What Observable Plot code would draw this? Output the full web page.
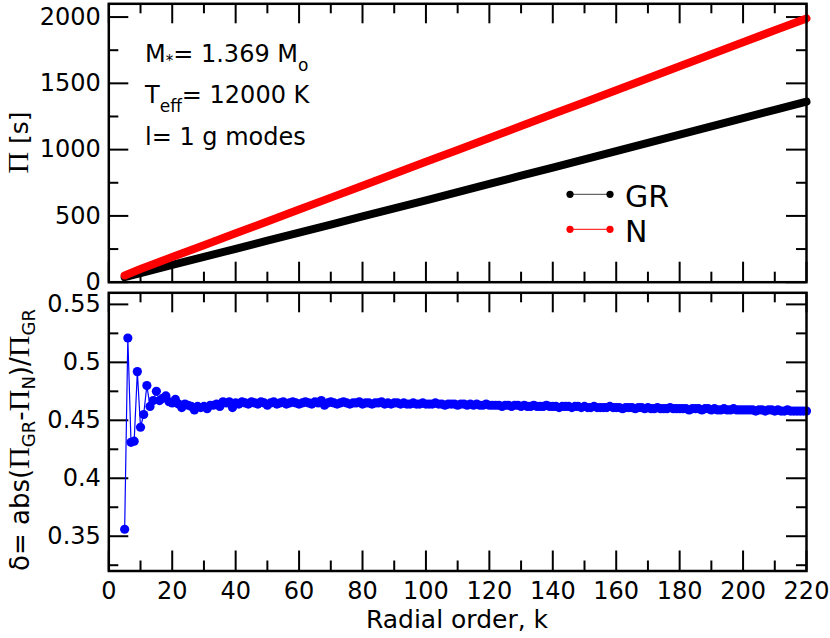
<!DOCTYPE html>
<html><head><meta charset="utf-8">
<script src="https://cdn.jsdelivr.net/npm/d3@7"></script>
<script src="https://cdn.jsdelivr.net/npm/@observablehq/plot@0.6"></script>
<style>
body{margin:0;background:#fff}
#wrap{position:relative;width:830px;height:638px;background:#fff}
#wrap svg{position:absolute;left:0;top:0}
</style>
</head><body><div id="wrap"></div>
<script>
// ---------- data ----------
const kTop = [5,10,20,30,40,50,60,70,80,90,100,110,120,130,140,150,160,170,180,190,200,210,220];
const periodGR = [38,68,130,191,252,313,374,435,496,557,618,679,741,803,865,927,989,1051,1113,1175,1237,1300,1362];
const periodN  = [51,99,190,279,369,458,548,638,728,818,908,998,1088,1178,1268,1358,1448,1538,1629,1720,1810,1900,1990];
const models = ["GR", "N"];
const modelColors = ["#000000", "#ff0000"];
const kDeltaStart = 5;
const delta = [
  0.356,0.521,0.431,0.432,0.492,0.444,0.455,0.480,0.462,0.467,
  0.475,0.467,0.469,0.471,0.466,0.465,0.468,0.464,0.461,0.464,
  0.463,0.462,0.459,0.462,0.461,0.462,0.460,0.463,0.463,0.464,
  0.462,0.466,0.465,0.466,0.461,0.465,0.464,0.466,0.465,0.464,
  0.466,0.465,0.464,0.466,0.465,0.463,0.465,0.466,0.464,0.465,
  0.466,0.464,0.465,0.466,0.465,0.464,0.465,0.466,0.465,0.464,
  0.466,0.465,0.467,0.463,0.465,0.466,0.465,0.464,0.465,0.466,
  0.465,0.464,0.465,0.465,0.466,0.464,0.465,0.465,0.464,0.465,
  0.465,0.466,0.464,0.465,0.464,0.465,0.465,0.464,0.465,0.464,
  0.464,0.465,0.464,0.464,0.465,0.464,0.464,0.464,0.465,0.464,
  0.464,0.463,0.464,0.464,0.464,0.463,0.464,0.464,0.463,0.464,
  0.463,0.464,0.463,0.463,0.464,0.463,0.463,0.463,0.463,0.462,
  0.463,0.463,0.462,0.463,0.463,0.462,0.463,0.462,0.462,0.463,
  0.462,0.462,0.462,0.463,0.462,0.462,0.462,0.461,0.462,0.462,
  0.462,0.461,0.462,0.462,0.461,0.462,0.461,0.461,0.462,0.461,
  0.461,0.461,0.461,0.462,0.461,0.461,0.461,0.460,0.461,0.461,
  0.461,0.460,0.461,0.461,0.460,0.461,0.460,0.460,0.461,0.460,
  0.460,0.460,0.461,0.460,0.460,0.460,0.460,0.460,0.459,0.460,
  0.460,0.460,0.459,0.460,0.460,0.459,0.460,0.459,0.459,0.460,
  0.459,0.459,0.460,0.459,0.459,0.459,0.459,0.459,0.459,0.458,
  0.459,0.459,0.458,0.459,0.459,0.458,0.459,0.458,0.458,0.459,
  0.458,0.458,0.458,0.458,0.458,0.458
];
const xMajor = [0,20,40,60,80,100,120,140,160,180,200,220];
const xMinor = [10,30,50,70,90,110,130,150,170,190,210];
const yTopMajor = [0,500,1000,1500,2000];
const yTopMinor = [250,750,1250,1750];
const yBotMajor = [0.35,0.4,0.45,0.5,0.55];
const yBotMinor = [0.325,0.375,0.425,0.475,0.525];
const xDomain = [0,220];
const yTopDomain = [0,2100];
const yBotDomain = [0.32,0.56];

// ---------- tables ----------
const topRows = [];
models.forEach((m, j) => {
  const vals = j === 0 ? periodGR : periodN;
  kTop.forEach((k, i) => topRows.push({model: m, k, period: vals[i]}));
});
const deltaRows = delta.map((v, i) => ({k: kDeltaStart + i, delta: v}));

// ---------- layout ----------
const W = 830, H = 638;
const L = 108.3, R = 806;
const topT = 3.3, topB = 281.7;
const botT = 292.3, botB = 570.5;
const FONT = "DejaVu Sans";

function frameTicks(fw, fh, yMaj, yMin) {
  const big = 20, small = 10, sw = 2;
  const o = {stroke: "black", strokeWidth: sw};
  return [
    Plot.tickX(xMajor, {x: d => d, insetTop: fh - big, ...o}),
    Plot.tickX(xMajor, {x: d => d, insetBottom: fh - big, ...o}),
    Plot.tickX(xMinor, {x: d => d, insetTop: fh - small, ...o}),
    Plot.tickX(xMinor, {x: d => d, insetBottom: fh - small, ...o}),
    Plot.tickY(yMaj, {y: d => d, insetRight: fw - big, ...o}),
    Plot.tickY(yMaj, {y: d => d, insetLeft: fw - big, ...o}),
    Plot.tickY(yMin, {y: d => d, insetRight: fw - small, ...o}),
    Plot.tickY(yMin, {y: d => d, insetLeft: fw - small, ...o})
  ];
}
const style = {fontFamily: FONT, fontSize: "24px", background: "transparent", overflow: "visible", color: "black"};

const plotTop = Plot.plot({
  width: W, height: H,
  marginLeft: L, marginRight: W - R, marginTop: topT, marginBottom: H - topB,
  x: {domain: xDomain, axis: null},
  y: {domain: yTopDomain, axis: null},
  style,
  marks: [
    ...frameTicks(R - L, topB - topT, yTopMajor, yTopMinor),
    Plot.axisY({ticks: yTopMajor, tickSize: 0, tickPadding: 8, tickFormat: d => String(d), fill: "black", label: null}),
    Plot.line(topRows, {x: "k", y: "period", z: "model",
      stroke: d => modelColors[models.indexOf(d.model)],
      strokeWidth: 8, strokeLinecap: "round"}),
    Plot.frame({stroke: "black", strokeWidth: 2.5})
  ]
});

const plotBot = Plot.plot({
  width: W, height: H,
  marginLeft: L, marginRight: W - R, marginTop: botT, marginBottom: H - botB,
  x: {domain: xDomain, axis: null},
  y: {domain: yBotDomain, axis: null},
  style,
  marks: [
    ...frameTicks(R - L, botB - botT, yBotMajor, yBotMinor),
    Plot.axisY({ticks: yBotMajor, tickSize: 0, tickPadding: 8, tickFormat: d => String(d), fill: "black", label: null}),
    Plot.axisX({ticks: xMajor, tickSize: 0, tickPadding: 11, tickFormat: d => String(d), fill: "black", label: null}),
    Plot.line(deltaRows, {x: "k", y: "delta", stroke: "#0000ff", strokeWidth: 1.2}),
    Plot.dot(deltaRows, {x: "k", y: "delta", r: 4.6, fill: "#0000ff", stroke: "none"}),
    Plot.frame({stroke: "black", strokeWidth: 2.5})
  ]
});

const wrap = document.getElementById("wrap");
wrap.appendChild(plotTop);
wrap.appendChild(plotBot);

// ---------- text annotations ----------
const st = d3.select(plotTop);
const sb = d3.select(plotBot);

function addRich(sel, x, y, parts, opts = {}) {
  const t = sel.append("text")
    .attr("x", x).attr("y", y)
    .attr("font-family", FONT).attr("font-size", opts.size || 24)
    .attr("fill", "black")
    .attr("text-anchor", opts.anchor || "start");
  if (opts.rotate) t.attr("transform", `rotate(${opts.rotate},${x},${y})`);
  let shift = 0;
  parts.forEach(p => {
    const ts = t.append("tspan").text(p.t);
    const want = p.dy || 0;
    if (want !== shift) { ts.attr("dy", want - shift); shift = want; }
    if (p.size) ts.attr("font-size", p.size);
    if (p.family) ts.attr("font-family", p.family);
  });
  return t;
}

// panel annotations
addRich(st, 145, 62, [{t: "M"}, {t: "*", size: 15, dy: 4}, {t: "= 1.369 M"}, {t: "o", size: 17, dy: 9}]);
addRich(st, 145, 103, [{t: "T"}, {t: "eff", size: 17, dy: 9}, {t: "= 12000 K"}]);
addRich(st, 145, 145, [{t: "l= 1 g modes"}]);

// legend
models.forEach((m, i) => {
  const y = 194.3 + i * 35;
  st.append("line").attr("x1", 570).attr("x2", 610).attr("y1", y).attr("y2", y)
    .attr("stroke", modelColors[i]).attr("stroke-width", 1.3).attr("stroke-opacity", i === 0 ? 0.6 : 0.8);
  [570, 610].forEach(cx => st.append("circle").attr("cx", cx).attr("cy", y).attr("r", 3.6).attr("fill", modelColors[i]));
  addRich(st, 625, y + 12.4, [{t: m}], {size: 30});
});

// axis titles
addRich(st, 28, 142.5, [{t: "Π", family: "Liberation Serif", size: 30}, {t: " [s]"}], {anchor: "middle", rotate: -90, size: 25});
addRich(sb, 29, 440, [
  {t: "δ= abs("},
  {t: "Π", family: "Liberation Serif", size: 30},
  {t: "GR", size: 18, dy: 6},
  {t: "-"},
  {t: "Π", family: "Liberation Serif", size: 30},
  {t: "N", size: 18, dy: 6},
  {t: ")/"},
  {t: "Π", family: "Liberation Serif", size: 30},
  {t: "GR", size: 18, dy: 6}
], {anchor: "middle", rotate: -90, size: 26});
addRich(sb, 457, 628, [{t: "Radial order, k"}], {anchor: "middle", size: 25});
</script>
</body></html>
